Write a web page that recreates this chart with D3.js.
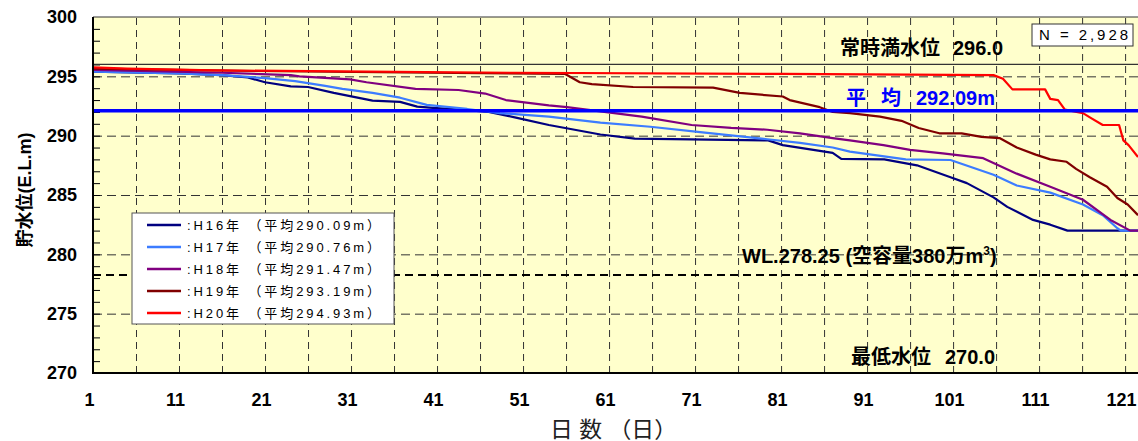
<!DOCTYPE html>
<html lang="ja">
<head>
<meta charset="UTF-8">
<title>貯水位 日数</title>
<style>
  body { margin: 0; background: #fff; }
  svg { display: block; font-family: "Liberation Sans", "Noto Sans CJK JP", sans-serif; }
  .grid path { display: none; }
  .grid line { stroke: #333; stroke-width: 1; }
  .minor path { display: none; }
  .minor line { stroke: #000; stroke-width: 1; }
  .labels path { display: none; }
  .labels text { font-size: 18px; font-weight: bold; fill: #000; font-family: "Liberation Sans", Arial, sans-serif; }
  .series { fill: none; stroke-width: 2.2; stroke-linejoin: round; }
  .note { font-size: 20px; font-weight: bold; fill: #000; }
  .legend text { font-size: 13px; fill: #000; }
</style>
</head>
<body>
<svg id="chart" width="1138" height="441"></svg>
<script src="https://d3js.org/d3.v7.min.js"></script>
<script>
// level-duration data: [day, level (E.L.m)]
const h16 = [[1,295.4],[11,295.25],[16,295.1],[19,294.9],[21,294.5],[24,294.15],[26,294.1],[29,293.6],[33.5,292.95],
  [36.7,292.85],[38.7,292.45],[40.5,292.35],[44.5,292.15],[47,292.0],[50.3,291.5],[54,290.9],[60,290.1],[64,289.75],
  [79.5,289.6],[81.2,289.2],[87,288.55],[88,288.05],[93,288.0],[96.8,287.5],[100.7,286.5],[102.6,286.0],[105.7,284.8],
  [107.3,284.0],[110.3,282.9],[112.3,282.5],[114.3,282.0],[122.5,282.0]];
const h17 = [[1,295.4],[11,295.25],[16,295.1],[19,294.95],[21,294.85],[24.5,294.6],[28,294.2],[30,293.95],[33.5,293.6],
  [36.7,293.2],[39.8,292.6],[44.5,292.25],[48.3,291.9],[54,291.6],[60,291.1],[65.8,290.75],[71.6,290.3],[79.4,289.7],
  [83.2,289.4],[87,289.0],[89,288.65],[95.5,288.0],[100.7,287.95],[105.7,286.7],[108.4,285.8],[112.3,285.2],
  [116.1,284.2],[118.4,283.3],[120.1,282.2],[120.5,282.0],[122.5,282.0]];
const h18 = [[1,295.55],[16,295.3],[24,295.1],[25,295.0],[30.9,294.75],[32.8,294.5],[38.5,293.95],[43.5,293.85],
  [46.6,293.55],[49,293.0],[54,292.55],[56.1,292.4],[64.8,291.6],[70.6,290.9],[75.2,290.65],[79.4,290.5],[83.2,290.2],
  [87,289.8],[89,289.6],[92.9,289.2],[96,288.8],[99.8,288.5],[104.5,288.1],[108.4,286.8],[112.3,285.7],[116.1,284.6],
  [119.3,282.9],[121.6,282.0],[122.5,282.0]];
const h19 = [[1,295.65],[20,295.45],[40,295.3],[55.9,295.2],[57.6,294.5],[59,294.35],[63.8,294.1],[73.1,294.05],
  [76.2,293.6],[81.2,293.3],[82,293.0],[85.5,292.4],[87,292.0],[89,291.9],[92.5,291.6],[95,291.25],[97,290.65],
  [99.4,290.2],[102,290.2],[104.3,289.9],[106.4,289.8],[108.4,289.0],[110.6,288.4],[112.3,288.0],[114.2,287.8],
  [115.3,287.2],[116.9,286.5],[118.9,285.7],[120.1,284.75],[121.3,284.2],[122.5,283.3]];
const h20 = [[1,295.75],[5,295.65],[15,295.5],[49.9,295.3],[81.2,295.2],[105.7,295.1],[106.8,294.8],[107.9,293.9],
  [111.7,293.9],[112.3,293.1],[113.2,293.0],[114,292.2],[116.1,291.9],[117,291.5],[118.4,290.9],[120.3,290.9],
  [120.8,289.6],[121.4,289.2],[122.5,288.2]];

const seriesData = [h16, h17, h18, h19, h20];
const seriesNames = [":H16年 （平均290.09m）", ":H17年 （平均290.76m）", ":H18年 （平均291.47m）",
  ":H19年 （平均293.19m）", ":H20年 （平均294.93m）"];
const seriesColors = ["#000080", "#3c7cff", "#800080", "#800000", "#ff0000"];

const fullLevel = 296.0;     // 常時満水位
const meanLevel = 292.09;    // 平均
const wlLevel = 278.25;      // WL 空容量380万m3
const xTickDays = d3.range(1, 122, 10);
const xGridDays = d3.range(6, 123, 5);
const yTickValues = d3.range(270, 301, 5);
const yGridValues = [275, 280, 285, 290, 295];
const yMinorValues = d3.range(271, 300, 1);

const svg = d3.select("#chart");
const plot = { left: 93, top: 17, right: 1138, bottom: 373 };
const w = plot.right - plot.left, h = plot.bottom - plot.top;

const x = d3.scaleLinear().domain([1, 122.5]).range([plot.left, plot.right]);
const y = d3.scaleLinear().domain([270, 300]).range([plot.bottom, plot.top]);

svg.append("defs").append("clipPath").attr("id", "clip")
  .append("rect").attr("x", plot.left).attr("y", plot.top).attr("width", w).attr("height", h);

// background
svg.append("rect").attr("x", plot.left).attr("y", plot.top).attr("width", w).attr("height", h)
  .attr("fill", "#ffffcc");

// grid
svg.append("g").attr("class", "grid")
  .attr("transform", `translate(0,${plot.bottom})`)
  .call(d3.axisBottom(x).tickValues(xGridDays).tickSize(-h).tickFormat(""))
  .selectAll("line").attr("stroke-dasharray", "7,5");

svg.append("g").attr("class", "grid")
  .attr("transform", `translate(${plot.left},0)`)
  .call(d3.axisLeft(y).tickValues(yGridValues).tickSize(-w).tickFormat(""))
  .selectAll("line").attr("stroke-dasharray", "9,5");

svg.append("g").attr("class", "minor")
  .attr("transform", `translate(${plot.left},0)`)
  .call(d3.axisRight(y).tickValues(yMinorValues).tickSize(7).tickFormat(""));

// reference lines
svg.append("line").attr("x1", plot.left).attr("x2", plot.right)
  .attr("y1", y(fullLevel)).attr("y2", y(fullLevel))
  .attr("stroke", "#333").attr("stroke-width", 1.2);

svg.append("line").attr("x1", plot.left).attr("x2", plot.right)
  .attr("y1", y(wlLevel)).attr("y2", y(wlLevel))
  .attr("stroke", "#000").attr("stroke-width", 2).attr("stroke-dasharray", "8,5");

// series
const line = d3.line().x(d => x(d[0])).y(d => y(d[1]));
const sg = svg.append("g").attr("clip-path", "url(#clip)");
seriesData.forEach((s, i) => {
  sg.append("path").datum(s).attr("class", "series")
    .attr("stroke", seriesColors[i]).attr("d", line);
});

// mean line on top
sg.append("line").attr("x1", plot.left).attr("x2", plot.right)
  .attr("y1", y(meanLevel)).attr("y2", y(meanLevel))
  .attr("stroke", "#0000ff").attr("stroke-width", 3.5);

// frame
svg.append("line").attr("x1", plot.left).attr("x2", plot.right).attr("y1", plot.top).attr("y2", plot.top)
  .attr("stroke", "#333").attr("stroke-width", 1);
svg.append("line").attr("x1", plot.left).attr("x2", plot.left).attr("y1", plot.top).attr("y2", plot.bottom + 1)
  .attr("stroke", "#000").attr("stroke-width", 2);
svg.append("line").attr("x1", plot.left - 1).attr("x2", plot.right).attr("y1", plot.bottom).attr("y2", plot.bottom)
  .attr("stroke", "#000").attr("stroke-width", 2);

// tick labels (the originals sit a few px left of their gridline)
svg.append("g").attr("class", "labels")
  .attr("transform", `translate(-4,${plot.bottom})`)
  .call(d3.axisBottom(x).tickValues(xTickDays).tickSize(0).tickPadding(20).tickFormat(d3.format("d")));

svg.append("g").attr("class", "labels")
  .attr("transform", `translate(${plot.left},0)`)
  .call(d3.axisLeft(y).tickValues(yTickValues).tickSize(0).tickPadding(16).tickFormat(d3.format("d")));

// axis titles
svg.append("text")
  .attr("transform", "translate(31,190) rotate(-90)")
  .attr("text-anchor", "middle")
  .style("font-size", "18px").style("font-weight", "bold")
  .text("貯水位(E.L.m)");

svg.append("text")
  .attr("x", 550).attr("y", 437)
  .attr("textLength", 127).attr("lengthAdjust", "spacingAndGlyphs")
  .style("font-size", "22px").style("fill", "#222")
  .text("日 数 （日）");

// annotations
const full = svg.append("text").attr("class", "note").attr("y", 55);
full.append("tspan").attr("x", 840).text("常時満水位");
full.append("tspan").attr("x", 953).text("296.0");

const mean = svg.append("text").attr("class", "note").attr("y", 105).style("fill", "#0000ff");
mean.append("tspan").attr("x", 846).text("平");
mean.append("tspan").attr("x", 881).text("均");
mean.append("tspan").attr("x", 916).text("292.09m");

const wl = svg.append("text").attr("class", "note").attr("x", 742).attr("y", 263);
wl.append("tspan").text("WL.278.25 (空容量380万m");
wl.append("tspan").attr("dy", -8).style("font-size", "12px").text("3");
wl.append("tspan").attr("dy", 8).text(")");

const low = svg.append("text").attr("class", "note").attr("y", 364);
low.append("tspan").attr("x", 851).text("最低水位");
low.append("tspan").attr("x", 945).text("270.0");

// legend
const lg = svg.append("g").attr("class", "legend");
lg.append("rect").attr("x", 132).attr("y", 213).attr("width", 262).attr("height", 111)
  .attr("fill", "#fff").attr("stroke", "#555").attr("stroke-width", 1);
const rows = lg.selectAll("g.row").data(seriesNames).enter().append("g")
  .attr("class", "row")
  .attr("transform", (d, i) => `translate(0,${225 + i * 22})`);
rows.append("line").attr("x1", 147).attr("x2", 181)
  .attr("stroke", (d, i) => seriesColors[i]).attr("stroke-width", 2.5);
rows.append("text").attr("x", 187).attr("y", 0).attr("dy", "0.35em")
  .attr("textLength", 193).attr("lengthAdjust", "spacing")
  .text(d => d);

// sample size box
svg.append("rect").attr("x", 1032).attr("y", 24).attr("width", 101).attr("height", 22)
  .attr("fill", "#fff").attr("stroke", "#333").attr("stroke-width", 1);
svg.append("text").attr("x", 1039).attr("y", 35).attr("dy", "0.35em")
  .attr("textLength", 89).attr("lengthAdjust", "spacing")
  .style("font-size", "15px")
  .text("N = 2,928");
</script>
</body>
</html>
